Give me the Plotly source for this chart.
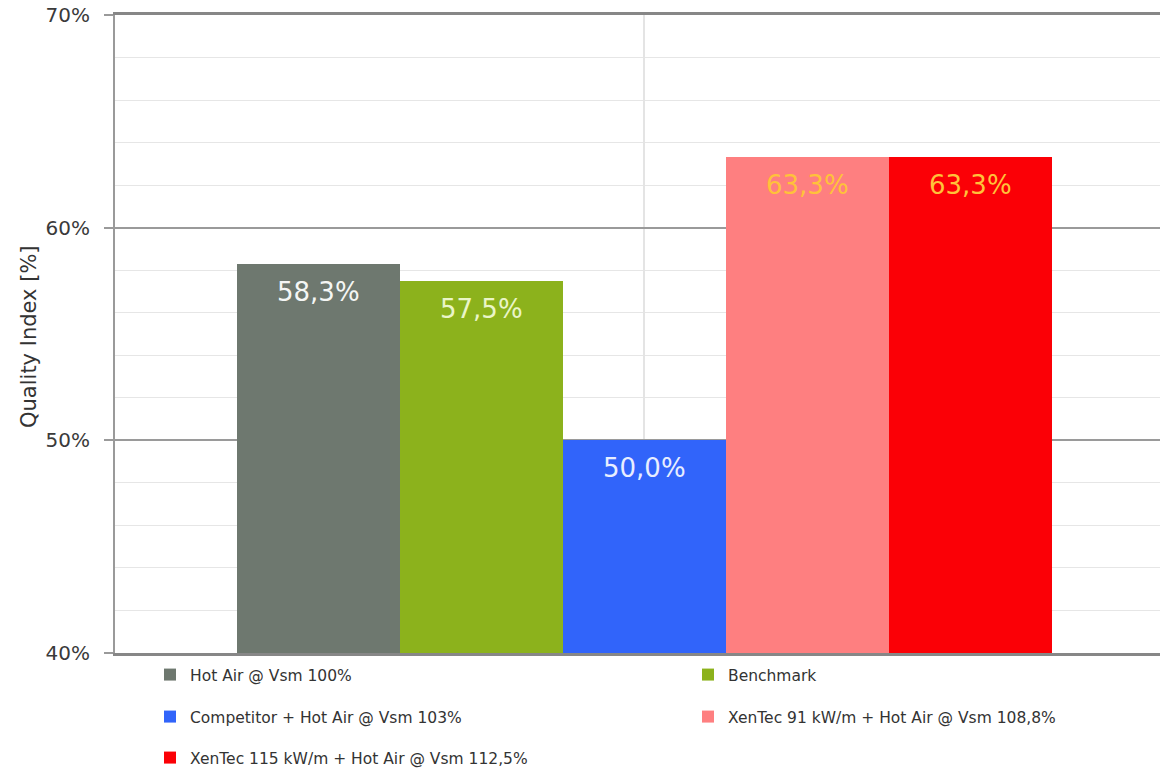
import plotly.graph_objects as go

# Series shown in the chart (one bar per configuration)
names = [
    "Hot Air @ Vsm 100%",
    "Benchmark",
    "Competitor + Hot Air @ Vsm 103%",
    "XenTec 91 kW/m + Hot Air @ Vsm 108,8%",
    "XenTec 115 kW/m + Hot Air @ Vsm 112,5%",
]
values = [58.3, 57.5, 50.0, 63.3, 63.3]
bar_colors = ["#6e786f", "#8cb21c", "#3164fa", "#fe7f80", "#fb0006"]
label_colors = ["#f4f6f4", "#eaf5c8", "#e8eeff", "#ffc23a", "#ffc23a"]

# y-axis ticks
y_ticks = [40, 50, 60, 70]
y_tick_text = ["40%", "50%", "60%", "70%"]

W, H = 1160, 769
FONT = "DejaVu Sans"
PLOT_L, PLOT_R = 115, 1160
PLOT_T, PLOT_B = 15, 653

# legend slots: (column x in px, row centre y in px)
legend_slots = [(150, 675), (688, 675), (150, 717), (688, 717), (150, 758)]

fig = go.Figure()
for i, (n, v, c) in enumerate(zip(names, values, bar_colors)):
    lg = "legend" if i == 0 else f"legend{i + 1}"
    fig.add_trace(go.Bar(
        x=[n], y=[v], name=n, marker=dict(color=c, line=dict(width=0)),
        width=1.0, legend=lg, hoverinfo="skip",
    ))
    fig.add_annotation(
        x=n, y=v, yanchor="middle", yshift=-28, showarrow=False,
        text=f"{v:.1f}".replace(".", ",") + "%",
        font=dict(family=FONT, size=26, color=label_colors[i]),
    )

# y-axis title, placed left of the tick labels
fig.add_annotation(
    xref="paper", yref="paper",
    x=(29 - PLOT_L) / (PLOT_R - PLOT_L), y=(PLOT_B - 337) / (PLOT_B - PLOT_T),
    xanchor="center", yanchor="middle", textangle=-90, showarrow=False,
    text="Quality Index [%]",
    font=dict(family=FONT, size=21, color="#333333"),
)

legend_layouts = {}
for i, (lx, ly) in enumerate(legend_slots):
    key = "legend" if i == 0 else f"legend{i + 1}"
    legend_layouts[key] = dict(
        x=lx / W, y=1 - ly / H, xref="container", yref="container",
        xanchor="left", yanchor="middle", bgcolor="rgba(0,0,0,0)",
        font=dict(family=FONT, size=15.5, color="#333333"),
    )

fig.update_layout(
    width=W, height=H,
    margin=dict(l=PLOT_L, r=W - PLOT_R, t=PLOT_T, b=H - PLOT_B, autoexpand=False),
    paper_bgcolor="white", plot_bgcolor="white",
    barmode="overlay", bargap=0,
    showlegend=True,
    font=dict(family=FONT, color="#333333"),
    **legend_layouts,
)

fig.update_xaxes(
    type="category", range=[-1.248, 5.163],
    tickvals=[names[2]], showticklabels=False, ticks="",
    showgrid=True, gridcolor="#e4e4e4", gridwidth=2,
    showline=True, linecolor="#878787", linewidth=3, mirror=True,
    zeroline=False, fixedrange=True,
)
fig.update_yaxes(
    range=[40, 70], tickvals=y_ticks, ticktext=y_tick_text,
    tickfont=dict(family=FONT, size=20, color="#3a3a3a"),
    ticks="outside", ticklen=9, tickwidth=2, tickcolor="#9a9a9a",
    ticklabelstandoff=10,
    showgrid=True, gridcolor="#9a9a9a", gridwidth=2,
    minor=dict(dtick=2, tick0=40, showgrid=True, gridcolor="#e6e6e6", gridwidth=1, ticks=""),
    showline=True, linecolor="#9a9a9a", linewidth=2,
    zeroline=False,
)

fig.write_html("out.html")
